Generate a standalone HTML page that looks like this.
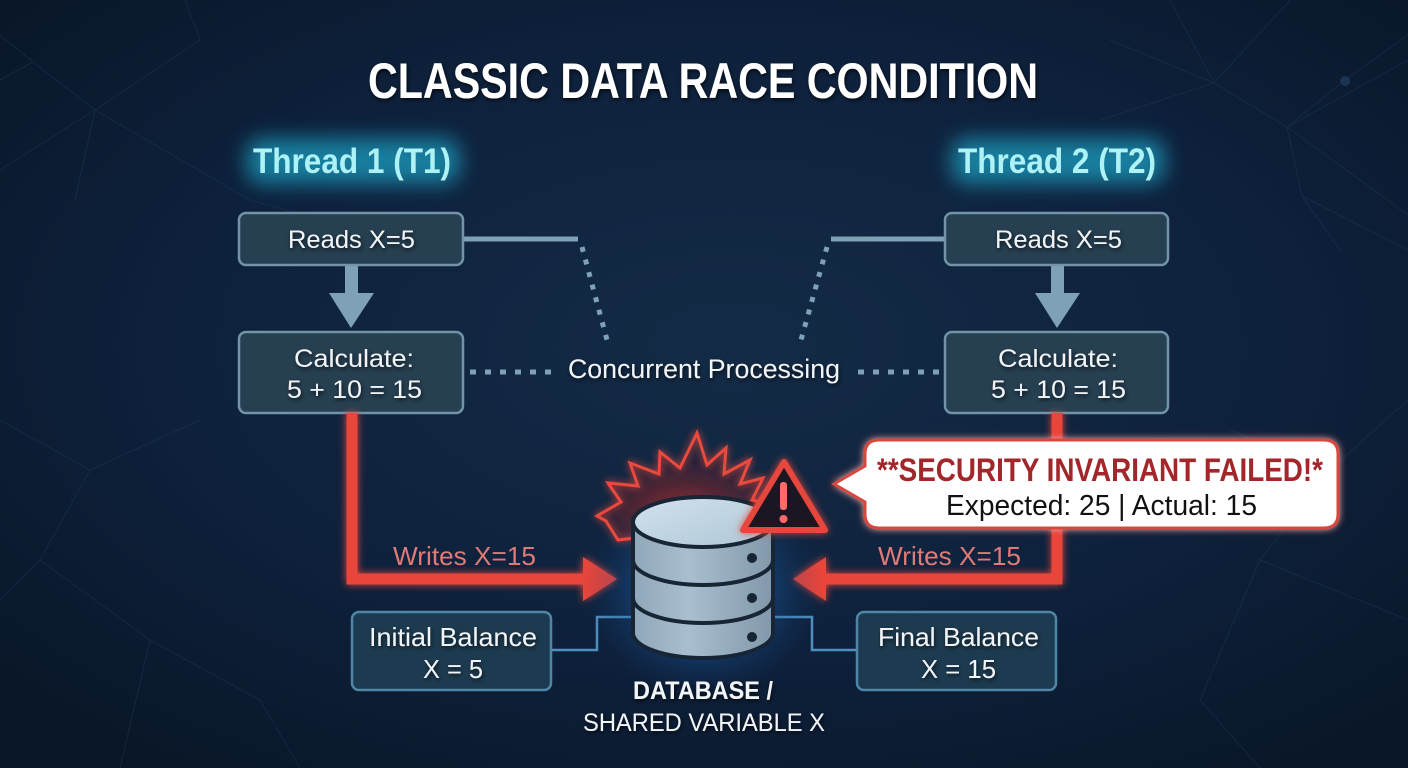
<!DOCTYPE html>
<html><head><meta charset="utf-8"><style>
html,body{margin:0;padding:0;background:#0b1a2f;}
svg{display:block;}
text{font-family:"Liberation Sans",sans-serif;}
</style></head><body>
<svg width="1408" height="768" viewBox="0 0 1408 768" xmlns="http://www.w3.org/2000/svg">
<defs>
<radialGradient id="bg" cx="52%" cy="45%" r="70%">
<stop offset="0" stop-color="#132b46"/>
<stop offset="0.55" stop-color="#0e213c"/>
<stop offset="1" stop-color="#091627"/>
</radialGradient>
<radialGradient id="dbglow" cx="50%" cy="50%" r="50%">
<stop offset="0" stop-color="#2f8ee0" stop-opacity="0.85"/>
<stop offset="0.6" stop-color="#1b5ea8" stop-opacity="0.35"/>
<stop offset="1" stop-color="#123a6a" stop-opacity="0"/>
</radialGradient>
<radialGradient id="burst" cx="50%" cy="75%" r="60%">
<stop offset="0" stop-color="#c0302c" stop-opacity="0.5"/>
<stop offset="1" stop-color="#5a1420" stop-opacity="0.05"/>
</radialGradient>
<linearGradient id="body" x1="0" x2="1" y1="0" y2="0">
<stop offset="0" stop-color="#8fa7ba"/>
<stop offset="0.4" stop-color="#a9bfcf"/>
<stop offset="1" stop-color="#8198ab"/>
</linearGradient>
<linearGradient id="top" x1="0" x2="1" y1="0" y2="1">
<stop offset="0" stop-color="#d2e2ec"/>
<stop offset="1" stop-color="#aec6d6"/>
</linearGradient>
<filter id="glowC" x="-30%" y="-60%" width="160%" height="220%">
<feGaussianBlur stdDeviation="10"/>
</filter>
<filter id="glowR" x="-20%" y="-20%" width="140%" height="140%">
<feGaussianBlur in="SourceGraphic" stdDeviation="4" result="b"/>
<feMerge><feMergeNode in="b"/><feMergeNode in="SourceGraphic"/></feMerge>
</filter>
<filter id="shadow" x="-10%" y="-30%" width="120%" height="160%">
<feGaussianBlur in="SourceAlpha" stdDeviation="2" result="b"/>
<feOffset dx="1" dy="2" result="o"/>
<feComponentTransfer in="o" result="s"><feFuncA type="linear" slope="0.7"/></feComponentTransfer>
<feMerge><feMergeNode in="s"/><feMergeNode in="SourceGraphic"/></feMerge>
</filter>
</defs>

<rect width="1408" height="768" fill="url(#bg)"/>

<!-- faint network lines -->
<g stroke="#22405e" stroke-width="1" opacity="0.38" fill="none">
<polyline points="0,35 33,62 95,110 200,40 185,0"/>
<polyline points="33,62 0,80"/>
<polyline points="95,110 0,170"/>
<polyline points="95,110 250,200 360,230"/>
<polyline points="95,110 75,200"/>
<polyline points="1170,0 1214,83 1287,127 1408,60"/>
<polyline points="1110,40 1214,83"/>
<polyline points="1287,127 1302,196 1408,250"/>
<polyline points="1287,127 1345,80 1408,35"/>
<polyline points="1287,127 1408,215"/>
<polyline points="1302,196 1340,250"/>
<polyline points="1100,120 1214,83 1290,0"/>
<polyline points="0,420 90,470 40,560 0,600"/>
<polyline points="90,470 200,420"/>
<polyline points="40,560 150,640 120,768"/>
<polyline points="1408,400 1330,470 1260,560 1408,620"/>
<polyline points="1330,470 1230,430"/>
<polyline points="1260,560 1200,700 1260,768"/>
<polyline points="150,640 260,700 300,768"/>
</g>
<circle cx="1345" cy="81" r="5" fill="#1a3452"/>

<!-- Title -->
<text x="368" y="98" font-size="50" font-weight="bold" fill="#ffffff" textLength="670" lengthAdjust="spacingAndGlyphs" filter="url(#shadow)">CLASSIC DATA RACE CONDITION</text>

<!-- Thread labels -->
<rect x="246" y="138" width="214" height="46" rx="16" fill="#1aa5c8" opacity="0.7" filter="url(#glowC)"/>
<rect x="951" y="138" width="214" height="46" rx="16" fill="#1aa5c8" opacity="0.7" filter="url(#glowC)"/>
<text x="253" y="173" font-size="35" font-weight="bold" fill="#aef2f6" textLength="198" lengthAdjust="spacingAndGlyphs">Thread 1 (T1)</text>
<text x="958" y="173" font-size="35" font-weight="bold" fill="#aef2f6" textLength="198" lengthAdjust="spacingAndGlyphs">Thread 2 (T2)</text>

<!-- concurrent connectors -->
<g stroke="#7fa1b6" fill="none">
<line x1="463" y1="239" x2="578" y2="239" stroke-width="5"/>
<line x1="945" y1="239" x2="831" y2="239" stroke-width="5"/>
<line x1="582" y1="247" x2="607" y2="340" stroke-width="5" stroke-dasharray="5,8"/>
<line x1="827" y1="247" x2="801" y2="340" stroke-width="5" stroke-dasharray="5,8"/>
<line x1="470" y1="372" x2="552" y2="372" stroke-width="5" stroke-dasharray="6,9"/>
<line x1="858" y1="372" x2="944" y2="372" stroke-width="5" stroke-dasharray="6,9"/>
</g>
<text x="568" y="378" font-size="27" fill="#f2f5f8" textLength="272" lengthAdjust="spacingAndGlyphs" filter="url(#shadow)">Concurrent Processing</text>

<!-- down arrows -->
<g fill="#7fa1b6">
<rect x="345" y="264" width="13" height="32"/>
<polygon points="329,293 374,293 351,328"/>
<rect x="1051" y="264" width="13" height="32"/>
<polygon points="1035,293 1080,293 1057,328"/>
</g>

<!-- Thread boxes -->
<g fill="#263f51" stroke="#7394a8" stroke-width="2.5">
<rect x="239" y="213" width="224" height="52" rx="7"/>
<rect x="239" y="332" width="224" height="81" rx="7"/>
<rect x="945" y="213" width="223" height="52" rx="7"/>
<rect x="945" y="332" width="223" height="81" rx="7"/>
</g>
<g fill="#f2f5f8" font-size="25" filter="url(#shadow)">
<text x="288" y="248" textLength="127" lengthAdjust="spacingAndGlyphs">Reads X=5</text>
<text x="294" y="367" textLength="120" lengthAdjust="spacingAndGlyphs">Calculate:</text>
<text x="287" y="398" textLength="135" lengthAdjust="spacingAndGlyphs">5 + 10 = 15</text>
<text x="995" y="248" textLength="127" lengthAdjust="spacingAndGlyphs">Reads X=5</text>
<text x="998" y="367" textLength="120" lengthAdjust="spacingAndGlyphs">Calculate:</text>
<text x="991" y="398" textLength="135" lengthAdjust="spacingAndGlyphs">5 + 10 = 15</text>
</g>

<!-- blue connectors to db -->
<g stroke="#4f8fbf" stroke-width="2.5" fill="none">
<polyline points="552,650 597,650 597,617 640,617"/>
<polyline points="766,617 812,617 812,650 857,650"/>
</g>

<!-- red write arrows -->
<g filter="url(#glowR)">
<polyline points="352,413 352,579 590,579" stroke="#e8453b" stroke-width="11" fill="none"/>
<polygon points="583,557 617,579 583,601" fill="#e8453b"/>
<polyline points="1057,413 1057,579 820,579" stroke="#e8453b" stroke-width="11" fill="none"/>
<polygon points="826,557 793,579 826,601" fill="#e8453b"/>
</g>
<text x="393" y="565" font-size="26" fill="#e07a76" textLength="143" lengthAdjust="spacingAndGlyphs">Writes X=15</text>
<text x="878" y="565" font-size="26" fill="#e07a76" textLength="143" lengthAdjust="spacingAndGlyphs">Writes X=15</text>

<!-- db glow -->
<ellipse cx="703" cy="590" rx="120" ry="110" fill="url(#dbglow)"/>

<!-- starburst -->
<polygon filter="url(#glowR)" points="618,540 606,521 597,516 621,502 608,483 638,486 630,463 659,474 660,452 680,468 697,433 707,465 726,448 724,474 750,460 740,484 763,478 752,500 772,505 760,520 700,530" fill="url(#burst)" stroke="#ea4a3e" stroke-width="3" stroke-linejoin="miter"/>

<!-- database cylinder -->
<g stroke="#172534" stroke-width="4">
<path d="M633,522 L633,633 A70,25 0 0 0 773,633 L773,522 Z" fill="url(#body)"/>
<path d="M633,560 A70,25 0 0 0 773,560" fill="none"/>
<path d="M633,598 A70,25 0 0 0 773,598" fill="none"/>
<ellipse cx="703" cy="522" rx="70" ry="25" fill="url(#top)"/>
</g>
<g fill="#172534">
<circle cx="752" cy="558" r="5"/>
<circle cx="752" cy="598" r="5"/>
<circle cx="752" cy="637" r="5"/>
</g>

<!-- warning triangle -->
<g filter="url(#glowR)">
<path d="M784,462 L825,530 L743,530 Z" fill="#1b1522" stroke="#e5473d" stroke-width="6" stroke-linejoin="round"/>
</g>
<rect x="780" y="482" width="7" height="28" rx="3" fill="#ff6b66"/>
<circle cx="783.5" cy="519" r="4" fill="#ff6b66"/>

<!-- callout -->
<g filter="url(#glowR)">
<path d="M879,440 L1324,440 Q1338,440 1338,454 L1338,514 Q1338,528 1324,528 L879,528 Q865,528 865,514 L865,502 L834,484 L865,466 L865,454 Q865,440 879,440 Z" fill="#ffffff" stroke="#d8463d" stroke-width="3"/>
</g>
<text x="877" y="481" font-size="32" font-weight="bold" fill="#a3262a" textLength="446" lengthAdjust="spacingAndGlyphs">**SECURITY INVARIANT FAILED!*</text>
<text x="946" y="515" font-size="29" fill="#111111" textLength="311" lengthAdjust="spacingAndGlyphs">Expected: 25 | Actual: 15</text>

<!-- balance boxes -->
<g fill="#1d3b50" stroke="#4f86a7" stroke-width="2.5">
<rect x="352" y="612" width="199" height="78" rx="7"/>
<rect x="857" y="612" width="199" height="78" rx="7"/>
</g>
<g fill="#f2f5f8" font-size="26" filter="url(#shadow)">
<text x="369" y="646" textLength="168" lengthAdjust="spacingAndGlyphs">Initial Balance</text>
<text x="423" y="678" textLength="60" lengthAdjust="spacingAndGlyphs">X = 5</text>
<text x="878" y="646" textLength="161" lengthAdjust="spacingAndGlyphs">Final Balance</text>
<text x="921" y="678" textLength="75" lengthAdjust="spacingAndGlyphs">X = 15</text>
</g>

<!-- db label -->
<text x="633" y="699" font-size="25" font-weight="bold" fill="#f2f5f8" textLength="140" lengthAdjust="spacingAndGlyphs" filter="url(#shadow)">DATABASE /</text>
<text x="583" y="731" font-size="25" fill="#f2f5f8" textLength="242" lengthAdjust="spacingAndGlyphs" filter="url(#shadow)">SHARED VARIABLE X</text>
</svg>
</body></html>
